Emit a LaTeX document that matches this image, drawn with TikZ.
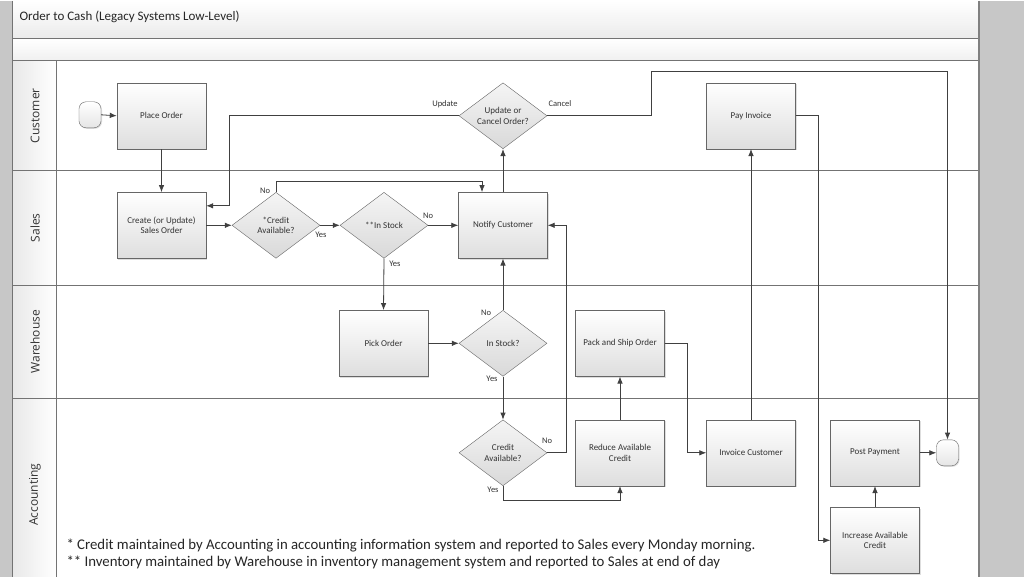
\documentclass[tikz,border=0pt]{standalone}
\usepackage{fontspec}
\setmainfont{Carlito}
\newfontfamily\lanefont{Open Sans}
\usetikzlibrary{arrows.meta, positioning, shapes.geometric, shadows}

\begin{document}
\begin{tikzpicture}[x=1pt, y=-1pt,
  task/.style = {rectangle, draw=black!60, top color=white, bottom color=black!13, minimum width=89pt, minimum height=66pt, align=center, font=\fontsize{9}{10.5}\selectfont, text=black!80, drop shadow={shadow xshift=1.2pt, shadow yshift=-1.2pt, fill=black!25}},
  decision/.style = {diamond, aspect=1.33, inner sep=0pt, draw=black!60, top color=black!4, bottom color=black!15, minimum width=88pt, minimum height=66pt, align=center, font=\fontsize{9}{10.5}\selectfont, text=black!80},
  term/.style = {rectangle, rounded corners=7pt, draw=black!60, top color=white, bottom color=black!10, minimum width=22pt, minimum height=26pt, inner sep=0pt, drop shadow={shadow xshift=1pt, shadow yshift=-1pt, fill=black!25}},
  lane/.style = {rotate=90, font=\lanefont\fontsize{12}{14}\selectfont, text=black!80},
  lbl/.style = {font=\fontsize{8.5}{9.5}\selectfont, text=black!80, inner sep=1pt},
  note/.style = {anchor=west, font=\fontsize{14.8}{17}\selectfont, text=black!85},
  laneline/.style = {draw=black!55, line width=0.8pt},
  arrow/.style = {draw=black!75, line width=0.8pt, -{Latex[length=7pt, width=5.5pt]}}
]

% frame and swimlanes
\fill[black!22] (0,0) rectangle (1024,576);
\fill[white] (12,0) rectangle (979,576);
\shade[top color=white, bottom color=black!8] (12,0) rectangle (979,38);
\shade[top color=white, bottom color=black!6] (12,38) rectangle (979,60);
\shade[left color=black!9, right color=white] (12,60) rectangle (56,576);
\draw[laneline] (12,38) -- (979,38);
\draw[laneline] (12,60) -- (979,60);
\draw[laneline] (12,170) -- (979,170);
\draw[laneline] (12,285) -- (979,285);
\draw[laneline] (12,398) -- (979,398);
\draw[laneline] (56,60) -- (56,576);
\draw[laneline] (12,0) -- (12,576);
\draw[draw=black!50, line width=1.6pt] (979,0) -- (979,576);

\node[anchor=west, font=\fontsize{13}{15}\selectfont, text=black!85] (title) at (16,16) {Order to Cash (Legacy Systems Low-Level)};

\node[lane] (laneCustomer) at (35,115) {Customer};
\node[lane] (laneSales) at (35,227) {Sales};
\node[lane] (laneWarehouse) at (35,341) {Warehouse};
\node[lane] (laneAccounting) at (35,494) {Accounting};

% Customer
\node[term] (start) at (90,114) {};
\node[task] (placeOrder) at (161.5,115) {Place Order};
\node[decision] (updCancel) at (503,115) {Update or\\Cancel Order?};
\node[task] (payInvoice) at (751,115) {Pay Invoice};

% Sales
\node[task] (createOrder) at (161.5,224.5) {Create (or Update)\\Sales Order};
\node[decision] (creditSales) at (276,224.5) {*Credit\\Available?};
\node[decision] (stockSales) at (384,224.5) {**In Stock};
\node[task] (notify) at (503,224.5) {Notify Customer};

% Warehouse
\node[task] (pickOrder) at (383.5,342.5) {Pick Order};
\node[decision] (stockWh) at (503,342.5) {In Stock?};
\node[task] (packShip) at (620,342.5) {Pack and Ship Order};

% Accounting
\node[decision] (creditAcc) at (503,452) {Credit\\Available?};
\node[task] (reduceCredit) at (620,452) {Reduce Available\\Credit};
\node[task] (invoice) at (751,452) {Invoice Customer};
\node[task] (postPayment) at (875,452) {Post Payment};
\node[term] (finish) at (947.5,452) {};
\node[task] (increaseCredit) at (875,539.5) {Increase Available\\Credit};

% Logic flow arrows
\draw[arrow] (start.east) -- (placeOrder.west);
\draw[arrow] (placeOrder.south) -- (createOrder.north);
\draw[arrow] (updCancel.west) -| (229,205) -- ([yshift=19.5pt]createOrder.east);
\draw[arrow] (updCancel.east) -| (651,71) -| (finish.north);
\draw[arrow] (createOrder.east) -- (creditSales.west);
\draw[arrow] (creditSales.north) |- (482,181) -- ([xshift=-21pt]notify.north);
\draw[arrow] (creditSales.east) -- (stockSales.west);
\draw[arrow] (stockSales.east) -- (notify.west);
\draw[arrow] (stockSales.south) -- (pickOrder.north);
\draw[arrow] (notify.north) -- (updCancel.south);
\draw[arrow] (pickOrder.east) -- (stockWh.west);
\draw[arrow] (stockWh.north) -- (notify.south);
\draw[arrow] (stockWh.south) -- (creditAcc.north);
\draw[arrow] (creditAcc.east) -- ++(19,0) |- (notify.east);
\draw[arrow] (creditAcc.south) -- ++(0,14) -| (reduceCredit.south);
\draw[arrow] (reduceCredit.north) -- (packShip.south);
\draw[arrow] (packShip.east) -- ++(23,0) |- (invoice.west);
\draw[arrow] (invoice.north) -- (payInvoice.south);
\draw[arrow] (payInvoice.east) -- ++(23,0) |- (increaseCredit.west);
\draw[arrow] (increaseCredit.north) -- (postPayment.south);
\draw[arrow] (postPayment.east) -- (finish.west);

% branch labels
\node[lbl] (lblUpdate) at (445,103) {Update};
\node[lbl] (lblCancel) at (560,103) {Cancel};
\node[lbl] (lblCreditNo) at (265,190) {No};
\node[lbl] (lblCreditYes) at (321,234) {Yes};
\node[lbl] (lblStockNo) at (428,215) {No};
\node[lbl] (lblStockYes) at (395,263) {Yes};
\node[lbl] (lblWhNo) at (486,312) {No};
\node[lbl] (lblWhYes) at (492,378) {Yes};
\node[lbl] (lblAccNo) at (547,440) {No};
\node[lbl] (lblAccYes) at (493,489) {Yes};

% footnotes
\node[note] (noteCredit) at (63,545) {* Credit maintained by Accounting in accounting information system and reported to Sales every Monday morning.};
\node[note] (noteStock) at (63,562) {** Inventory maintained by Warehouse in inventory management system and reported to Sales at end of day};

\end{tikzpicture}
\end{document}
